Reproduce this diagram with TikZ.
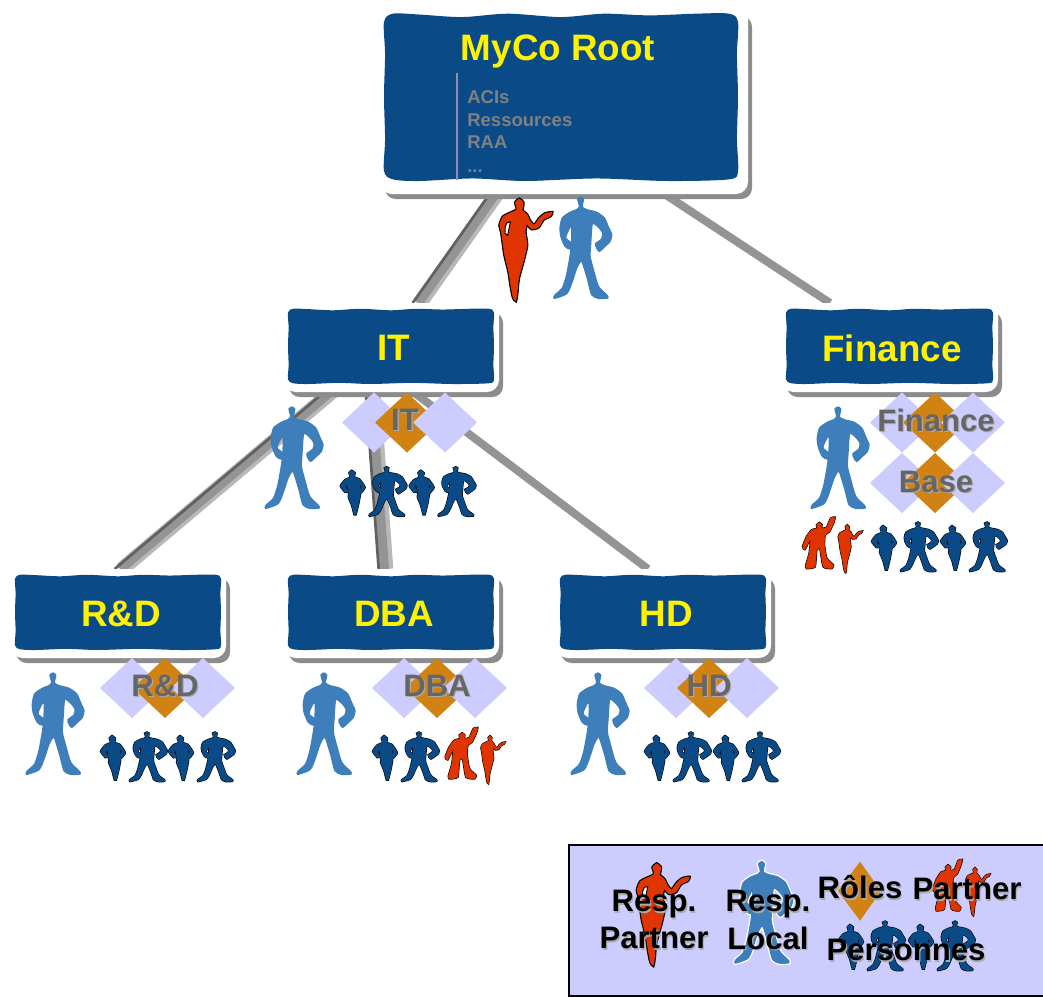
\documentclass[tikz,border=0pt]{standalone}
\usepackage{fontspec}
\setmainfont{Liberation Sans}
\usetikzlibrary{calc}
\definecolor{boxblue}{HTML}{0A4B87}
\definecolor{manblue}{HTML}{3D7EBB}
\definecolor{redfig}{HTML}{E03500}
\definecolor{rolefill}{HTML}{D08212}
\definecolor{lilac}{HTML}{CCCCFF}
\definecolor{labgray}{HTML}{666666}
\definecolor{subgray}{HTML}{808080}
\newcommand\manpts{plot[smooth cycle,tension=.4] coordinates {(97,22)(105,28)(103,40)(101,52)(115,60)(145,68)(168,85)(180,112)(190,135)(185,155)(170,170)(153,185)(145,175)(142,162)(160,148)(163,130)(150,112)(132,102)(127,160)(125,200)(135,240)(150,290)(175,316)(178,325)(150,326)(130,315)(118,270)(102,218)(96,216)(85,235)(70,280)(55,312)(18,326)(20,316)(42,295)(55,255)(65,200)(70,160)(70,108)(60,122)(52,145)(72,163)(65,178)(50,170)(38,142)(35,115)(42,85)(65,68)(85,60)(93,52)(91,40)(88,28)}}
\newcommand\womanpts{plot[smooth cycle,tension=.4] coordinates {(73,22)(84,32)(82,48)(80,55)(95,68)(105,88)(118,100)(135,78)(150,66)(170,62)(165,72)(145,82)(130,105)(110,110)(95,95)(90,120)(95,160)(85,205)(70,260)(66,300)(62,325)(55,315)(48,280)(42,240)(30,190)(25,155)(20,120)(15,100)(25,75)(50,62)(65,55)(66,45)(62,32)}}
\newcommand\plumppts{plot[smooth cycle,tension=.3] coordinates {(35,26)(44,33)(42,46)(58,52)(74,76)(62,92)(60,84)(66,74)(57,64)(60,95)(55,125)(47,157)(43,157)(36,130)(26,105)(28,90)(21,66)(14,73)(24,88)(16,90)(2,72)(15,54)(32,46)(28,33)}}
\newcommand\waverpts{plot[smooth cycle,tension=.3] coordinates {(88,398)(96,404)(94,415)(110,412)(122,385)(135,382)(130,400)(118,425)(105,435)(103,465)(110,505)(130,525)(125,535)(100,530)(90,475)(80,480)(75,530)(50,535)(48,525)(58,490)(62,445)(45,478)(38,470)(50,440)(65,420)(82,415)(80,405)}}
\newcommand\wavypts{plot[smooth cycle,tension=.5] coordinates {(2.5,1)(10,1.5)(22,3)(35,1)(50,3)(62,1)(75,2)(88,1)(97.5,1)(100,6)(99.7,25)(100,50)(99.7,75)(100,94)(97.5,99)(80,100)(60,98.5)(40,100)(25,98.5)(10,100)(2.5,99)(0,94)(.3,75)(0,50)(.3,25)(0,6)}}
% [style]{x}{y}{sx}{sy}
\newcommand\manfig[5][bigman]{\begin{scope}[shift={(#2,#3)},xscale=#4/3,yscale=#5/3,shift={(-97,-22)}]\path[#1] \manpts;\end{scope}}
\newcommand\womanfig[5][redsmall]{\begin{scope}[shift={(#2,#3)},xscale=#4/3,yscale=#5/3,shift={(-73,-22)}]\path[#1] \womanpts;\end{scope}}
\newcommand\bigwoman[2]{\begin{scope}[shift={(#1,#2)},xscale=1/3,yscale=1/3,shift={(-73,-22)}]\path[redbig] \womanpts;\path[fill=white,draw=black,line width=.7pt] (36,92) -- (46,90) -- (38,130) -- (30,124) -- (31,104) -- cycle;\end{scope}}
\newcommand\plumpfig[3]{\begin{scope}[shift={(#1,#2)},xscale=#3/3,yscale=#3/3,shift={(-35,-26)}]\path[smallblue] \plumppts;\end{scope}}
\newcommand\waverfig[5][redsmall]{\begin{scope}[shift={(#2,#3)},xscale=#4/3,yscale=#5/3,shift={(-88,-398)}]\path[#1] \waverpts;\end{scope}}
% x,y top of the first small figure
\newcommand\staffpair[2]{\plumpfig{#1}{#2}{1}\manfig[smallblue]{#1+35}{#2-3.5}{.64}{.48}}
% blue rect x1 y1 x2 y2 extra
\newcommand\wavybox[5]{%
 \fill[shade1,rounded corners=8] (#1+1,#2+4) rectangle (#3+9+#5,#4+13+#5);
 \fill[white,rounded corners=9] (#1-4,#2-5) rectangle (#3+5+#5,#4+8+#5);
 \begin{scope}[shift={(#1,#2)},xscale={(#3-#1)/100},yscale={(#4-#2)/100}]\fill[boxblue] \wavypts;\end{scope}}
% centre x,y of orange
\newcommand\rolegroup[2]{%
 \fill[lilac] (#1-33-32,#2) -- (#1-33,#2-30) -- (#1-33+32,#2) -- (#1-33,#2+30) -- cycle;
 \fill[rolefill] (#1-32,#2) -- (#1,#2-30) -- (#1+32,#2) -- (#1,#2+30) -- cycle;
 \fill[lilac] (#1+38-32,#2) -- (#1+38,#2-30) -- (#1+38+32,#2) -- (#1+38,#2+30) -- cycle;}
\newcommand\bandlink[2]{%
 \draw[bandlight] (#1) -- (#2);
 \draw[bandmid,transform canvas={xshift=-1.5pt}] (#1) -- (#2);
 \draw[banddark,transform canvas={xshift=-5.5pt}] (#1) -- (#2);}
\newcommand\shd[1]{\rlap{\kern.9pt\raisebox{-.9pt}{\textcolor{shadowgray}{#1}}}#1}
\colorlet{shade1}{black!45}
\definecolor{shadowgray}{HTML}{ABABAB}
\tikzset{
 x=.75pt,y=-.75pt,
 area/.style={inner sep=0pt,outer sep=0pt},
 bigman/.style={fill=manblue,draw=manblue,line width=1pt},
 haloman/.style={preaction={draw=white,line width=3pt},fill=manblue,draw=manblue,line width=1pt},
 smallblue/.style={preaction={draw=black,line width=1.7pt},fill=boxblue,draw=boxblue,line width=.8pt},
 redbig/.style={preaction={draw=black,line width=2.6pt},fill=redfig,draw=redfig,line width=.8pt},
 redsmall/.style={preaction={draw=black,line width=1.4pt},fill=redfig,draw=redfig,line width=.4pt},
 bandlight/.style={draw=black!28,line width=11pt},
 bandmid/.style={draw=black!42,line width=7.5pt},
 banddark/.style={draw=black!62,line width=2pt},
 plainband/.style={draw=black!42,line width=6pt},
 title/.style={font=\bfseries\fontsize{27.6}{32}\selectfont,text=yellow,inner sep=0pt},
 rolelabel/.style={font=\bfseries\fontsize{23.3}{27}\selectfont,text=labgray,inner sep=0pt},
 legendlabel/.style={font=\bfseries\fontsize{23.3}{27}\selectfont,text=black,inner sep=0pt,align=center},
 sublabel/.style={font=\bfseries\fontsize{13.9}{17}\selectfont,text=subgray,inner sep=0pt,anchor=base west},
}
\begin{document}
\begin{tikzpicture}
\useasboundingbox (0,0) rectangle (1043,997);
\fill[white] (0,0) rectangle (1043,997);
% layout areas of the boxes
\node[area,minimum width=276pt,minimum height=142pt] (root) at (562.5,100) {};
\node[area,minimum width=160.5pt,minimum height=66pt] (it) at (391,347) {};
\node[area,minimum width=160.5pt,minimum height=66pt] (finance) at (889,347) {};
\node[area,minimum width=160.5pt,minimum height=66pt] (rd) at (118,613) {};
\node[area,minimum width=160.5pt,minimum height=66pt] (dba) at (391,613) {};
\node[area,minimum width=160.5pt,minimum height=66pt] (hd) at (663,613) {};
% connectors
\bandlink{$(root.south)+(-66,0)$}{$(it.north)+(29,0)$}
\draw[plainband] ($(root.south)+(103,0)$) -- ($(finance.north)+(-59,0)$);
\bandlink{$(it.south)+(-58,0)$}{$(rd.north)+(4,0)$}
\bandlink{$(it.south)+(-18,0)$}{$(dba.north)+(-5,0)$}
\draw[plainband] ($(it.south)+(21,0)$) -- ($(hd.north)+(-15,0)$);
% boxes
\wavybox{384}{12}{738}{181}{5}
\wavybox{288}{308}{494}{384}{0}
\wavybox{786}{308}{993}{384}{0}
\wavybox{15}{574}{221}{650}{0}
\wavybox{288}{574}{494}{650}{0}
\wavybox{560}{574}{766}{650}{0}
\draw[black!30!lilac,line width=1.1pt] (457,73) -- (457,180);
\node[title] (troot) at (558,51) {MyCo Root};
\node[sublabel] (s1) at (467,103) {ACIs};
\node[sublabel] (s2) at (467,126) {Ressources};
\node[sublabel] (s3) at (467,148) {RAA};
\node[sublabel] (s4) at (467,172) {...};
\node[title] (tit) at (394,348) {IT};
\node[title] (tfin) at (892,348) {Finance};
\node[title] (trd) at (121,614) {R\&D};
\node[title] (tdba) at (394,614) {DBA};
\node[title] (thd) at (666,614) {HD};
% root figures
\bigwoman{519.3}{199.3}
\manfig{580.7}{197}{1}{1}
% IT
\rolegroup{407}{422.5}
\node[rolelabel] (lit) at (405,420) {\shd{IT}};
\manfig{292}{407}{1}{1}
\staffpair{351.7}{470.7}\staffpair{420.7}{470.7}
% Finance
\rolegroup{935}{422.5}
\rolegroup{935}{483}
\node[rolelabel] (lfin) at (936,421) {\shd{Finance}};
\node[rolelabel] (lbase) at (936,482.5) {\shd{Base}};
\manfig{838}{407}{1}{1}
\waverfig{819.3}{522.7}{1}{1}
\womanfig{847.3}{525}{.46}{.47}
\staffpair{883}{526}\staffpair{952}{526}
% R&D
\rolegroup{165}{688}
\node[rolelabel] (lrd) at (165,686) {\shd{R\&D}};
\manfig{53}{673}{1}{1}
\staffpair{112}{736}\staffpair{180}{736}
% DBA
\rolegroup{437}{688}
\node[rolelabel] (ldba) at (437,686) {\shd{DBA}};
\manfig{324}{673}{1}{1}
\staffpair{384}{736}
\waverfig{462}{733}{1}{1}
\womanfig{490}{736}{.46}{.47}
% HD
\rolegroup{709}{688}
\node[rolelabel] (lhd) at (709,686) {\shd{HD}};
\manfig{598}{673}{1}{1}
\staffpair{656}{736}\staffpair{725}{736}
% legend
\draw[fill=lilac,draw=black,line width=1.8pt] (569,845) rectangle (1046,996);
\bigwoman{656.7}{864}
\manfig[haloman]{761.7}{861.7}{1}{1}
\fill[rolefill] (838,891) -- (860,861.7) -- (881,891) -- (860,920.7) -- cycle;
\waverfig{948}{865}{.9}{1}
\womanfig{975}{868}{.46}{.47}
\staffpair{850}{925}\staffpair{920}{925}
\node[legendlabel] (l1a) at (654,905) {\shd{Resp.}};
\node[legendlabel] (l1b) at (654,939) {\shd{Partner}};
\node[legendlabel] (l2a) at (768,905) {\shd{Resp.}};
\node[legendlabel] (l2b) at (768,939) {\shd{Local}};
\node[legendlabel] (l3) at (860,888) {\shd{Rôles}};
\node[legendlabel] (l4) at (967,890) {\shd{Partner}};
\node[legendlabel] (l5) at (906,951) {\shd{Personnes}};
\end{tikzpicture}
\end{document}
